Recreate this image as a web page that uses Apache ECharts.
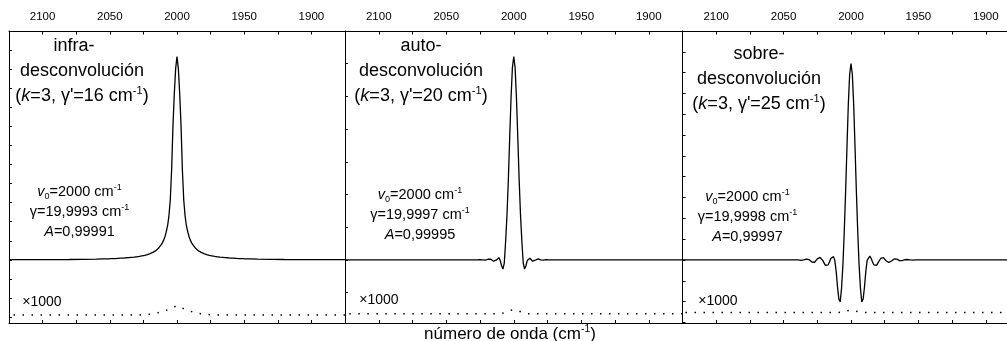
<!DOCTYPE html>
<html>
<head>
<meta charset="utf-8">
<script src="https://cdn.jsdelivr.net/npm/echarts@6/dist/echarts.min.js"></script>
<style>
  html, body { margin: 0; padding: 0; background: #fff; }
  #chart { width: 1007px; height: 341px; }
</style>
</head>
<body>
<div id="chart"></div>
<script>
// Wavenumber grid (cm-1) shared by the three deconvolved band profiles
const wavenumber = [
  1875, 1900, 1920, 1930, 1940, 1945, 1950, 1952, 1954, 1956, 1958,
  1960, 1961, 1962, 1963, 1964, 1965, 1966, 1967, 1968, 1969,
  1970, 1971, 1972, 1973, 1974, 1975, 1976, 1977, 1978, 1979,
  1980, 1981, 1982, 1983, 1984, 1985, 1986, 1987, 1988, 1989,
  1990, 1991, 1992, 1993, 1994, 1995, 1996, 1997, 1998, 1999,
  2000,
  2001, 2002, 2003, 2004, 2005, 2006, 2007, 2008, 2009, 2010,
  2011, 2012, 2013, 2014, 2015, 2016, 2017, 2018, 2019, 2020,
  2021, 2022, 2023, 2024, 2025, 2026, 2027, 2028, 2029, 2030,
  2031, 2032, 2033, 2034, 2035, 2036, 2037, 2038, 2039, 2040,
  2042, 2044, 2046, 2048, 2050, 2055, 2060, 2070, 2080, 2100, 2125
];

// infra-desconvolución (k=3, γ'=16 cm-1)
const infraSignal = [
  0.001, 0.001, 0.002, 0.003, 0.004, 0.005, 0.006, 0.007, 0.007, 0.008, 0.009,
  0.009, 0.010, 0.011, 0.011, 0.012, 0.012, 0.013, 0.014, 0.014, 0.015,
  0.016, 0.017, 0.018, 0.019, 0.021, 0.023, 0.024, 0.026, 0.028, 0.030,
  0.033, 0.036, 0.039, 0.043, 0.047, 0.053, 0.059, 0.067, 0.077, 0.088,
  0.102, 0.121, 0.147, 0.179, 0.231, 0.315, 0.473, 0.704, 0.872, 1.003,
  1.066,
  1.003, 0.872, 0.704, 0.473, 0.315, 0.231, 0.179, 0.147, 0.121, 0.102,
  0.088, 0.077, 0.067, 0.059, 0.053, 0.047, 0.043, 0.039, 0.036, 0.033,
  0.030, 0.028, 0.026, 0.024, 0.023, 0.021, 0.019, 0.018, 0.017, 0.016,
  0.015, 0.014, 0.014, 0.013, 0.012, 0.012, 0.011, 0.011, 0.010, 0.009,
  0.009, 0.008, 0.007, 0.007, 0.006, 0.005, 0.004, 0.003, 0.002, 0.001, 0.001
];

// auto-desconvolución (k=3, γ'=20 cm-1)
const autoSignal = [
  0, 0, 0, 0, 0, 0, 0, 0, 0, 0, 0,
  0, 0, 0, 0, 0, 0, 0, 0, 0, 0,
  0, 0, 0, 0, 0, 0.001, 0.001, 0, -0.001, -0.001,
  0, 0.002, 0.003, 0.002, -0.001, -0.004, -0.004, -0.001, 0.005, 0.007,
  -0.002, -0.018, -0.028, -0.009, 0.058, 0.138, 0.245, 0.374, 0.496, 0.588,
  0.622,
  0.588, 0.496, 0.374, 0.245, 0.138, 0.058, -0.009, -0.028, -0.018, -0.002,
  0.007, 0.005, -0.001, -0.004, -0.004, -0.001, 0.002, 0.003, 0.002, 0,
  -0.001, -0.001, 0, 0.001, 0.001, 0, 0, 0, 0, 0,
  0, 0, 0, 0, 0, 0, 0, 0, 0, 0,
  0, 0, 0, 0, 0, 0, 0, 0, 0, 0, 0
];

// sobre-desconvolución (k=3, γ'=25 cm-1)
const sobreSignal = [
  0, 0, 0, 0, 0, 0, 0, 0, -0.001, 0, 0.002,
  0.001, -0.001, -0.003, -0.004, -0.003, 0, 0.004, 0.006, 0.005, 0.001,
  -0.005, -0.010, -0.012, -0.011, -0.004, 0.005, 0.011, 0.012, 0.007, -0.002,
  -0.014, -0.026, -0.029, -0.024, -0.010, 0.007, 0.018, 0.016, -0.002, -0.055,
  -0.130, -0.188, -0.202, -0.135, -0.024, 0.135, 0.327, 0.539, 0.746, 0.891,
  0.944,
  0.891, 0.746, 0.539, 0.327, 0.135, -0.024, -0.135, -0.202, -0.188, -0.130,
  -0.055, -0.002, 0.016, 0.018, 0.007, -0.010, -0.024, -0.029, -0.026, -0.014,
  -0.002, 0.007, 0.012, 0.011, 0.005, -0.004, -0.011, -0.012, -0.010, -0.005,
  0.001, 0.003, 0.004, 0.002, 0, -0.002, -0.002, -0.001, 0, 0,
  0, 0, 0, 0, 0, 0, 0, 0, 0, 0, 0
];

// Fit residuals (×1000), drawn as dotted traces below each band
const residualWavenumber = [
  1875, 1910, 1940, 1960, 1970, 1975, 1980, 1984, 1988, 1991, 1994, 1997,
  2000,
  2003, 2006, 2009, 2012, 2016, 2020, 2025, 2030, 2040, 2060, 2090, 2125
];
const infraResidual = [
  -0.289, -0.289, -0.289, -0.289, -0.289, -0.288, -0.285, -0.280, -0.274, -0.267, -0.259, -0.250,
  -0.240,
  -0.250, -0.259, -0.267, -0.274, -0.280, -0.285, -0.288, -0.289, -0.289, -0.289, -0.289, -0.289
];
const autoResidual = [
  -0.165, -0.165, -0.165, -0.165, -0.165, -0.165, -0.165, -0.165, -0.165, -0.164, -0.160, -0.155,
  -0.152,
  -0.155, -0.160, -0.164, -0.165, -0.165, -0.165, -0.165, -0.165, -0.165, -0.165, -0.165, -0.165
];
const sobreResidual = [
  -0.252, -0.252, -0.252, -0.252, -0.252, -0.252, -0.252, -0.252, -0.252, -0.252, -0.250, -0.245,
  -0.241,
  -0.245, -0.250, -0.252, -0.252, -0.252, -0.252, -0.252, -0.252, -0.252, -0.252, -0.252, -0.252
];

// Axis ticks
const xTickLabels = [1900, 1950, 2000, 2050, 2100];
const xTicks = [1900, 1925, 1950, 1975, 2000, 2025, 2050, 2075, 2100];
const yTicksInfra = [-0.3, -0.2, -0.1, 0, 0.1, 0.2, 0.3, 0.4, 0.5, 0.6, 0.7, 0.8, 0.9, 1.0, 1.1, 1.2];
const yTicksAuto = [-0.1, 0, 0.1, 0.2, 0.3, 0.4, 0.5, 0.6, 0.7];
const yTicksSobre = [-0.3, -0.2, -0.1, 0, 0.1, 0.2, 0.3, 0.4, 0.5, 0.6, 0.7, 0.8, 0.9, 1.0, 1.1];

// Labels
const panelTitles = [
  ['infra-', 'desconvolución', '({i|k}=3, γ\'=16 cm{s|-1})'],
  ['auto-', 'desconvolución', '({i|k}=3, γ\'=20 cm{s|-1})'],
  ['sobre-', 'desconvolución', '({i|k}=3, γ\'=25 cm{s|-1})']
];
const fitCenter = ['2000', '2000', '2000'];
const fitWidth = ['19,9993', '19,9997', '19,9998'];
const fitArea = ['0,99991', '0,99995', '0,99997'];
const residualScale = '×1000';
const xAxisName = 'número de onda (cm{s|-1})';
</script>
<script>
const FONT = '"Liberation Sans", Arial, Helvetica, sans-serif';

// Panel frames and text anchors (pixels)
const panels = [
  { left: 9, width: 336, yMin: -0.331, yMax: 1.2, yTicks: yTicksInfra,
    signal: infraSignal, residual: infraResidual,
    title: [82, 46], titleShift: [-8, 0, 0], fit: [79.5, 192], mult: [42, 302] },
  { left: 345, width: 337.5, yMin: -0.193, yMax: 0.7, yTicks: yTicksAuto,
    signal: autoSignal, residual: autoResidual,
    title: [421, 46], titleShift: [0, 0, 0], fit: [420, 195], mult: [379, 300] },
  { left: 682.5, width: 337, yMin: -0.303, yMax: 1.1, yTicks: yTicksSobre,
    signal: sobreSignal, residual: sobreResidual,
    title: [759, 54], titleShift: [0, 0, 0], fit: [747.5, 197], mult: [718, 301] }
];

const black = '#000';
const grid = [], xAxis = [], yAxis = [], series = [], graphic = [];

panels.forEach((p, i) => {
  grid.push({ left: p.left, width: p.width, top: 31, bottom: 18,
              containLabel: false, outerBoundsMode: 'none' });
  // top axis carrying the wavenumber labels
  xAxis.push({
    type: 'value', gridIndex: i, position: 'top', min: 1875, max: 2125, inverse: true,
    axisLine: { show: true, onZero: false, lineStyle: { color: black, width: 1 } },
    axisTick: { show: true, inside: true, length: 3.5, customValues: xTicks,
                lineStyle: { color: black, width: 1 } },
    axisLabel: { show: true, customValues: xTickLabels, color: black,
                 fontSize: 11.5, fontFamily: FONT, margin: 8,
                 formatter: v => String(Math.round(v)) },
    splitLine: { show: false }
  });
  // bottom axis, ticks only
  xAxis.push({
    type: 'value', gridIndex: i, position: 'bottom', min: 1875, max: 2125, inverse: true,
    axisLine: { show: true, onZero: false, lineStyle: { color: black, width: 1 } },
    axisTick: { show: true, inside: true, length: 3, customValues: xTicks,
                lineStyle: { color: black, width: 1 } },
    axisLabel: { show: false },
    splitLine: { show: false }
  });
  yAxis.push({
    type: 'value', gridIndex: i, position: 'left', min: p.yMin, max: p.yMax,
    axisLine: { show: true, onZero: false, lineStyle: { color: black, width: 1 } },
    axisTick: { show: true, inside: true, length: 3, customValues: p.yTicks,
                lineStyle: { color: black, width: 1 } },
    axisLabel: { show: false },
    splitLine: { show: false }
  });
  series.push({
    type: 'line', xAxisIndex: 2 * i, yAxisIndex: i, showSymbol: false, symbol: 'none',
    data: wavenumber.map((w, k) => [w, p.signal[k]]),
    lineStyle: { color: black, width: 1.3 }, silent: true
  });
  series.push({
    type: 'line', xAxisIndex: 2 * i, yAxisIndex: i, showSymbol: false, symbol: 'none',
    data: residualWavenumber.map((w, k) => [w, p.residual[k]]),
    lineStyle: { color: black, width: 1.5, type: [1.5, 7.5], cap: 'butt' }, silent: true
  });

  const titleRich = {
    i: { fontSize: 18, fontFamily: FONT, fontStyle: 'italic', lineHeight: 22 },
    s: { fontSize: 11, fontFamily: FONT, lineHeight: 11, verticalAlign: 'top' }
  };
  panelTitles[i].forEach((line, j) => {
    graphic.push({
      type: 'text', x: p.title[0] + p.titleShift[j], y: p.title[1] + j * 25, silent: true,
      style: { text: line, fill: black, fontSize: 18, fontFamily: FONT, lineHeight: 22,
               align: 'center', verticalAlign: 'middle', rich: titleRich }
    });
  });

  const fitRich = {
    i: { fontSize: 14.5, fontFamily: FONT, fontStyle: 'italic', lineHeight: 18 },
    s: { fontSize: 9, fontFamily: FONT, lineHeight: 9, verticalAlign: 'top' },
    b: { fontSize: 9, fontFamily: FONT, lineHeight: 9, verticalAlign: 'bottom' }
  };
  const fitLines = [
    '{i|v}{b|0}=' + fitCenter[i] + ' cm{s|-1}',
    'γ=' + fitWidth[i] + ' cm{s|-1}',
    '{i|A}=' + fitArea[i]
  ];
  fitLines.forEach((line, j) => {
    graphic.push({
      type: 'text', x: p.fit[0], y: p.fit[1] + j * 20, silent: true,
      style: { text: line, fill: black, fontSize: 14.5, fontFamily: FONT, lineHeight: 18,
               align: 'center', verticalAlign: 'middle', rich: fitRich }
    });
  });

  graphic.push({
    type: 'text', x: p.mult[0], y: p.mult[1], silent: true,
    style: { text: residualScale, fill: black, fontSize: 14, fontFamily: FONT,
             align: 'center', verticalAlign: 'middle' }
  });
});

graphic.push({
  type: 'text', x: 510, y: 334, silent: true,
  style: {
    text: xAxisName, fill: black, fontSize: 17, fontFamily: FONT, lineHeight: 20,
    align: 'center', verticalAlign: 'middle',
    rich: { s: { fontSize: 10.5, fontFamily: FONT, lineHeight: 10, verticalAlign: 'top' } }
  }
});

const chart = echarts.init(document.getElementById('chart'), null, { renderer: 'canvas' });
chart.setOption({
  backgroundColor: '#fff',
  animation: false,
  grid, xAxis, yAxis, series, graphic
});
</script>
</body>
</html>
